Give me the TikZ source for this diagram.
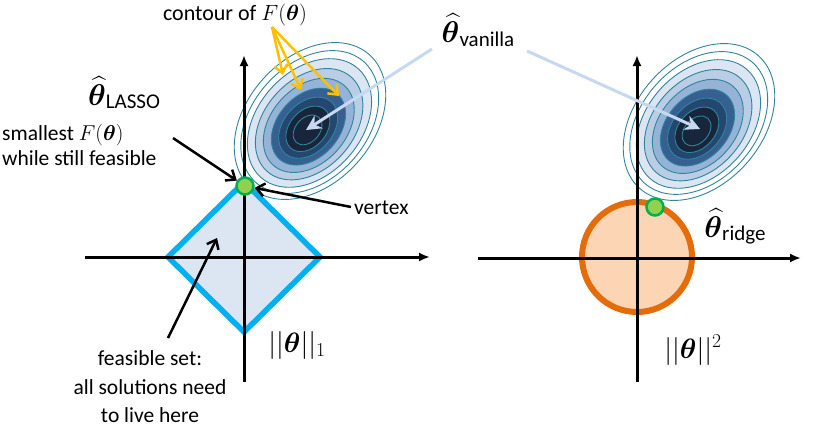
\RequirePackage{fix-cm}
\documentclass[tikz,border=0pt]{standalone}
\usepackage{fontspec}
\setmainfont{Carlito}
\usepackage{amsmath}
\usepackage{bm}
\usetikzlibrary{arrows.meta}
\definecolor{cA}{HTML}{DCE6F2}
\definecolor{cB}{HTML}{B9CDE5}
\definecolor{cC}{HTML}{95B3D7}
\definecolor{cD}{HTML}{366092}
\definecolor{cE}{HTML}{244770}
\definecolor{cF}{HTML}{17263B}
\definecolor{tealline}{HTML}{31849B}
\definecolor{l1blue}{HTML}{00B0F0}
\definecolor{l2orange}{HTML}{E46C0A}
\definecolor{l2fill}{HTML}{FCD5B5}
\definecolor{dotfill}{HTML}{92D050}
\definecolor{dotdraw}{HTML}{00B050}
\definecolor{arrorange}{HTML}{FFC000}
\definecolor{arrblue}{HTML}{C6D9F1}
\tikzset{
  axis/.style={line width=3pt,-{Latex[length=11pt,width=9pt]}},
  contourline/.style={draw=tealline,line width=0.9pt},
  dotnode/.style={circle,fill=dotfill,draw=dotdraw,line width=2.5pt,minimum size=17pt,inner sep=0pt},
  blkarrow/.style={line width=2.5pt,-{Straight Barb[length=8pt,width=13pt,line width=2.5pt]}},
  orarrow/.style={draw=arrorange,line width=2.5pt,-{Straight Barb[length=8pt,width=13pt,line width=2.5pt]}},
  bluearrow/.style={draw=arrblue,line width=3pt,-{Stealth[length=15pt,width=15pt,inset=5pt]}},
  txt/.style={font=\fontsize{21.5}{26}\selectfont,inner sep=0pt},
}
\newcommand\mycontours[2]{%
  \foreach \s/\c in {1.00/none,0.91/none,0.82/cA,0.71/cB,0.60/cC,0.49/cD,0.39/cE,0.29/cF,0.19/none}{%
    \pgfmathsetmacro\ox{#1-3*(1-\s)}%
    \pgfmathsetmacro\oy{#2+11*(1-\s)}%
    \draw[contourline,fill=\c,rotate around={48:(\ox,\oy)}] (\ox,\oy) ellipse [x radius={\s*89pt}, y radius={\s*63pt}];
  }%
}
\begin{document}
\begin{tikzpicture}[x=1pt,y=-1pt]
\useasboundingbox (0,0) rectangle (833,445);
% contours
\mycontours{310}{121}
\mycontours{699}{122}
% left panel
\draw[draw=l1blue,fill=cA,line width=5.5pt] (244,182) -- (320,257) -- (244,332) -- (168,257) -- cycle;
\coordinate (lxl) at (85,257);
\coordinate (lxr) at (430,257);
\coordinate (lyb) at (244,382);
\coordinate (lyt) at (244,55);
\draw[axis] (lxl) -- (lxr);
\draw[axis] (lyb) -- (lyt);
% right panel
\draw[draw=l2orange,fill=l2fill,line width=6pt] (637,257) circle [radius=55pt];
\coordinate (rxl) at (478,258);
\coordinate (rxr) at (801,258);
\coordinate (ryb) at (637,382);
\coordinate (ryt) at (637,55);
\draw[axis] (rxl) -- (rxr);
\draw[axis] (ryb) -- (ryt);
% dots
\node[dotnode] (dotL) at (245,186) {};
\node[dotnode] (dotR) at (655,207) {};
% labels
\node[font=\fontsize{22}{26}\selectfont,inner sep=0pt,anchor=base] (contour) at (235,20) {contour of $F(\bm{\theta})$};
\node[anchor=base,inner sep=0pt] (vanilla) at (478,42) {{\fontsize{30}{30}\selectfont$\widehat{\bm{\theta}}$}{\fontsize{21}{21}\selectfont\raisebox{-4pt}{vanilla}}};
\node[anchor=base,inner sep=0pt] (lasso) at (124,105) {{\fontsize{30}{30}\selectfont$\widehat{\bm{\theta}}$}{\fontsize{21}{21}\selectfont\raisebox{-3pt}{LASSO}}};
\node[anchor=base,inner sep=0pt] (ridge) at (735,237) {{\fontsize{30}{30}\selectfont$\widehat{\bm{\theta}}$}{\fontsize{21}{21}\selectfont\raisebox{-3pt}{ridge}}};
\node[txt,anchor=base west] (small1) at (2,140) {smallest $F(\bm{\theta})$};
\node[txt,anchor=base west] (small2) at (2,165) {while still feasible};
\node[txt,anchor=west] (vertex) at (354,208) {vertex};
\node[txt,anchor=base] (feas1) at (150,365) {feasible set:};
\node[txt,anchor=base] (feas2) at (150,394) {all solutions need};
\node[txt,anchor=base] (feas3) at (150,422) {to live here};
\node[anchor=base,inner sep=0pt,font=\fontsize{28}{28}\selectfont] (norm1) at (297,352) {$||\bm{\theta}||_1$};
\node[anchor=base,inner sep=0pt,font=\fontsize{28}{28}\selectfont] (norm2) at (693,358) {$||\bm{\theta}||^2$};
% arrows
\coordinate (smallS) at (173,138);
\coordinate (vertexS) at (351,207);
\coordinate (feasS) at (168,338);
\coordinate (feasE) at (217,238);
\draw[blkarrow] (smallS) -- (dotL);
\draw[blkarrow] (vertexS) -- (dotL);
\draw[blkarrow] (feasS) -- (feasE);
\coordinate (orS) at (272,27);
\coordinate (or1) at (283,75);
\coordinate (or2) at (301,90);
\coordinate (or3) at (339,96);
\draw[orarrow] (orS) -- (or1);
\draw[orarrow] (orS) -- (or2);
\draw[orarrow] (orS) -- (or3);
\coordinate (blS1) at (432,49);
\coordinate (blE1) at (306,130);
\coordinate (blS2) at (527,51);
\coordinate (blE2) at (700,129);
\draw[bluearrow] (blS1) -- (blE1);
\draw[bluearrow] (blS2) -- (blE2);
\end{tikzpicture}
\end{document}
